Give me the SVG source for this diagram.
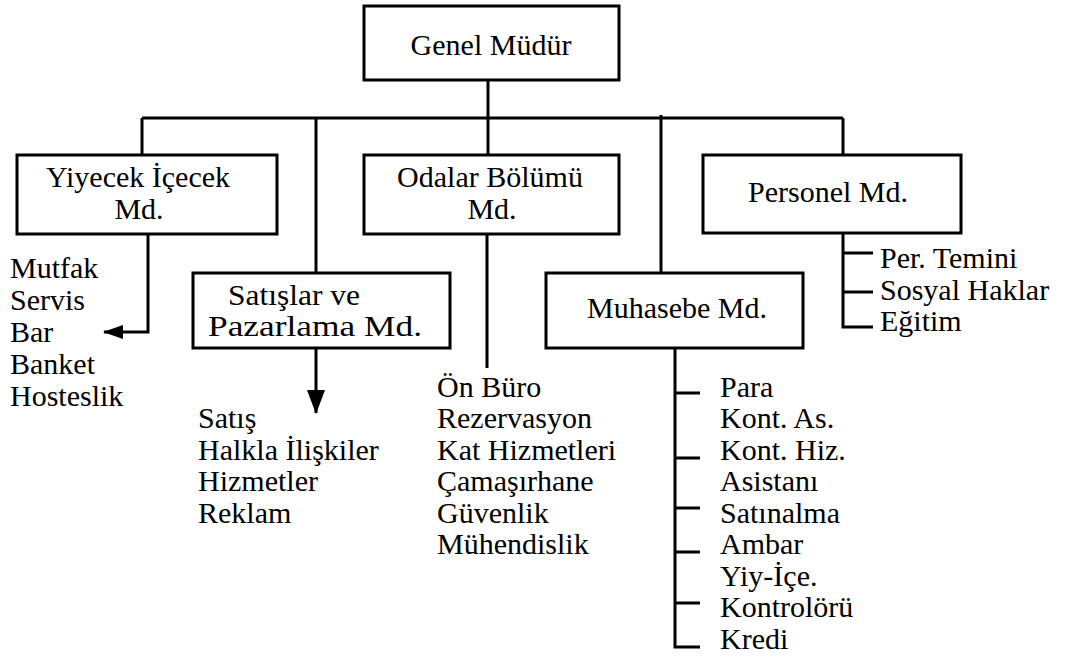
<svg xmlns="http://www.w3.org/2000/svg" width="1073" height="658" viewBox="0 0 1073 658">
<style>
.t{font-family:"Liberation Serif","DejaVu Serif",Tinos,"Times New Roman",Times,serif;font-size:30px;fill:#000}
.s{font-size:29px}
.c{text-anchor:middle}
.box{fill:#fff;stroke:#000;stroke-width:3}
.ln{fill:none;stroke:#000;stroke-width:3}
</style>
<defs>
<marker id="ah" viewBox="0 0 20 14" refX="19" refY="7" markerWidth="20" markerHeight="14" markerUnits="userSpaceOnUse" orient="auto">
<path d="M0,0 L20,7 L0,14 Z" fill="#000"/>
</marker>
<marker id="ah2" viewBox="0 0 24 18" refX="23" refY="9" markerWidth="24" markerHeight="18" markerUnits="userSpaceOnUse" orient="auto">
<path d="M0,0 L24,9 L0,18 Z" fill="#000"/>
</marker>
</defs>
<rect width="1073" height="658" fill="#fff"/>
<g id="connectors">
<path class="ln" d="M488,80 V118"/>
<path class="ln" d="M142,118 H843"/>
<path class="ln" d="M142,118 V155"/>
<path class="ln" d="M316,118 V273"/>
<path class="ln" d="M488,118 V155"/>
<path class="ln" d="M661,115 V273"/>
<path class="ln" d="M843,118 V155"/>
<path class="ln" d="M148,234 V332 H104" marker-end="url(#ah)"/>
<path class="ln" d="M316,348 V413" marker-end="url(#ah2)"/>
<path class="ln" d="M487,234 V368"/>
<path class="ln" d="M675,348 V647 H700 M675,393 H700 M675,458 H700 M675,508 H700 M675,552 H700 M675,603 H700"/>
<path class="ln" d="M843,233 V327 H873 M843,253 H873 M843,292 H873"/>
</g>
<g id="genel" class="t">
<rect class="box" x="364" y="6" width="255" height="74"/>
<text class="c" x="491" y="55">Genel Müdür</text>
</g>
<g id="yiyecek" class="t">
<rect class="box" x="17" y="155" width="260" height="79"/>
<text class="c" x="138" y="187">Yiyecek İçecek</text>
<text class="c" x="139" y="219">Md.</text>
</g>
<g id="odalar" class="t">
<rect class="box" x="364" y="155" width="255" height="79"/>
<text class="c" x="490" y="187">Odalar Bölümü</text>
<text class="c" x="492" y="219">Md.</text>
</g>
<g id="personel" class="t">
<rect class="box" x="703" y="155" width="258" height="78"/>
<text class="c" x="828" y="202">Personel Md.</text>
</g>
<g id="satislar" class="t">
<rect class="box" x="193" y="273" width="257" height="75"/>
<text class="s" x="228" y="305" textLength="132" lengthAdjust="spacingAndGlyphs">Satışlar ve</text>
<text class="s" x="208" y="336" textLength="214" lengthAdjust="spacingAndGlyphs">Pazarlama Md.</text>
</g>
<g id="muhasebe" class="t">
<rect class="box" x="546" y="273" width="257" height="75"/>
<text class="c" x="677" y="318">Muhasebe Md.</text>
</g>
<g id="yiyecek-list" class="t">
<text x="10" y="278">Mutfak</text>
<text x="10" y="310">Servis</text>
<text x="10" y="342">Bar</text>
<text x="10" y="374">Banket</text>
<text x="10" y="406">Hosteslik</text>
</g>
<g id="satis-list" class="t">
<text x="198" y="428">Satış</text>
<text x="198" y="460">Halkla İlişkiler</text>
<text x="198" y="491">Hizmetler</text>
<text x="198" y="523">Reklam</text>
</g>
<g id="odalar-list" class="t">
<text x="437" y="397">Ön Büro</text>
<text x="437" y="428">Rezervasyon</text>
<text x="437" y="460">Kat Hizmetleri</text>
<text x="437" y="491">Çamaşırhane</text>
<text x="437" y="523">Güvenlik</text>
<text x="437" y="554">Mühendislik</text>
</g>
<g id="muhasebe-list" class="t">
<text x="720" y="397">Para</text>
<text x="720" y="428">Kont. As.</text>
<text x="720" y="460">Kont. Hiz.</text>
<text x="720" y="491">Asistanı</text>
<text x="720" y="523">Satınalma</text>
<text x="720" y="554">Ambar</text>
<text x="720" y="586">Yiy-İçe.</text>
<text x="720" y="617">Kontrolörü</text>
<text x="720" y="649">Kredi</text>
</g>
<g id="personel-list" class="t">
<text x="880" y="268">Per. Temini</text>
<text x="880" y="300">Sosyal Haklar</text>
<text x="880" y="331">Eğitim</text>
</g>
</svg>
